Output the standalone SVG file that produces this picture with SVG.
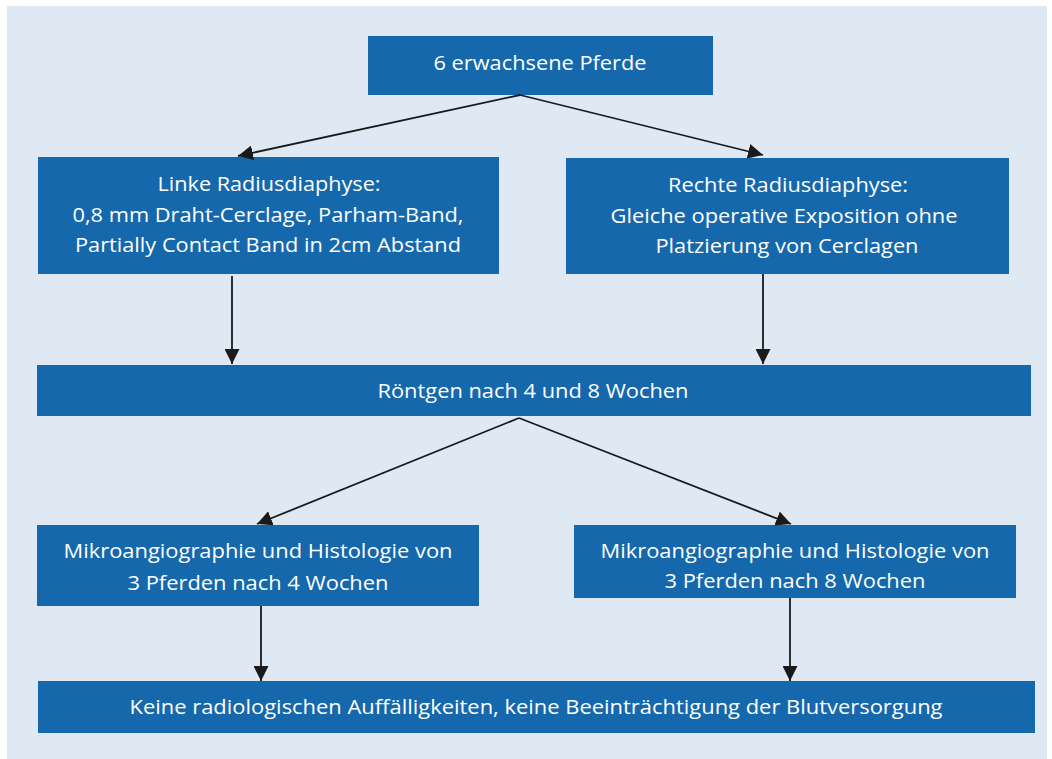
<svg xmlns="http://www.w3.org/2000/svg" width="1052" height="759" viewBox="0 0 1052 759">
<style>
.box{fill:#1668ad}
.t{font-family:"Open Sans","Noto Sans","Liberation Sans",sans-serif;font-size:20px;fill:#ffffff;text-anchor:middle}
.c{stroke:#1a1a1a;stroke-width:1.8;fill:none;marker-end:url(#ah)}
</style>
<defs>
<marker id="ah" markerUnits="userSpaceOnUse" markerWidth="16" markerHeight="15" refX="15" refY="7.5" orient="auto">
<path d="M0,0 L15,7.5 L0,15 z" fill="#1a1a1a"/>
</marker>
</defs>
<rect x="7" y="6" width="1040" height="753" fill="#dfe9f4"/>
<g id="n1"><rect class="box" x="368" y="36" width="345" height="59"/>
<text class="t" x="540" y="70" textLength="213" lengthAdjust="spacingAndGlyphs">6 erwachsene Pferde</text></g>
<g id="n2"><rect class="box" x="38" y="157" width="461" height="117"/>
<text class="t" x="269" y="191" textLength="223" lengthAdjust="spacingAndGlyphs">Linke Radiusdiaphyse:</text>
<text class="t" x="268" y="222" textLength="391" lengthAdjust="spacingAndGlyphs">0,8 mm Draht-Cerclage, Parham-Band,</text>
<text class="t" x="268" y="252" textLength="386" lengthAdjust="spacingAndGlyphs">Partially Contact Band in 2cm Abstand</text></g>
<g id="n3"><rect class="box" x="566" y="158" width="443" height="116"/>
<text class="t" x="788" y="192" textLength="240" lengthAdjust="spacingAndGlyphs">Rechte Radiusdiaphyse:</text>
<text class="t" x="784" y="223" textLength="347" lengthAdjust="spacingAndGlyphs">Gleiche operative Exposition ohne</text>
<text class="t" x="787" y="253" textLength="263" lengthAdjust="spacingAndGlyphs">Platzierung von Cerclagen</text></g>
<g id="n4"><rect class="box" x="37" y="365" width="994" height="51"/>
<text class="t" x="533" y="398" textLength="311" lengthAdjust="spacingAndGlyphs">Röntgen nach 4 und 8 Wochen</text></g>
<g id="n5"><rect class="box" x="37" y="525" width="442" height="81"/>
<text class="t" x="258" y="558" textLength="389" lengthAdjust="spacingAndGlyphs">Mikroangiographie und Histologie von</text>
<text class="t" x="258" y="590" textLength="261" lengthAdjust="spacingAndGlyphs">3 Pferden nach 4 Wochen</text></g>
<g id="n6"><rect class="box" x="574" y="525" width="442" height="73"/>
<text class="t" x="795" y="558" textLength="389" lengthAdjust="spacingAndGlyphs">Mikroangiographie und Histologie von</text>
<text class="t" x="795" y="588" textLength="261" lengthAdjust="spacingAndGlyphs">3 Pferden nach 8 Wochen</text></g>
<g id="n7"><rect class="box" x="38" y="681" width="997" height="52"/>
<text class="t" x="536" y="714" textLength="813" lengthAdjust="spacingAndGlyphs">Keine radiologischen Auffälligkeiten, keine Beeinträchtigung der Blutversorgung</text></g>
<g id="connectors">
<path class="c" d="M520,95 L238,156"/>
<path class="c" d="M520,95 L763,155"/>
<path class="c" d="M232,276 L232,364"/>
<path class="c" d="M763,274 L763,364"/>
<path class="c" d="M519,418 L257,524"/>
<path class="c" d="M519,418 L791,524"/>
<path class="c" d="M261,606 L261,681"/>
<path class="c" d="M790,598 L790,681"/>
</g>
</svg>
